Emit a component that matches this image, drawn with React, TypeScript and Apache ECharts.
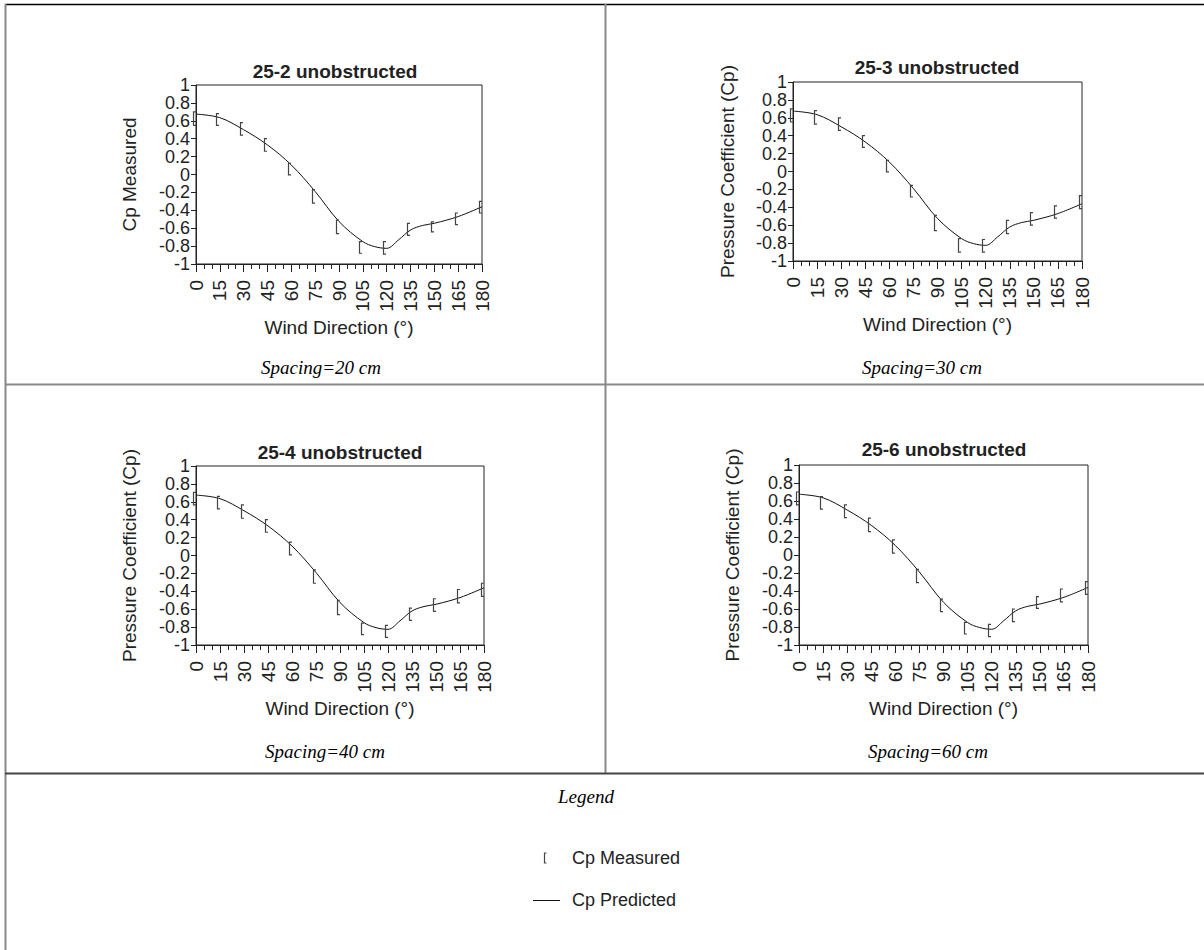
import React, { useEffect, useRef } from "react";
import * as echarts from "echarts";

// ---------- data ----------
const angles = [0, 15, 30, 45, 60, 75, 90, 105, 120, 135, 150, 165, 180];

const low1 = [0.55, 0.55, 0.44, 0.26, -0.005, -0.32, -0.66, -0.88, -0.89, -0.68, -0.64, -0.56, -0.43];
const high1 = [0.7, 0.68, 0.58, 0.4, 0.125, -0.17, -0.51, -0.75, -0.75, -0.545, -0.53, -0.43, -0.3];

const low2 = [0.553, 0.53, 0.46, 0.27, -0.005, -0.285, -0.66, -0.9, -0.9, -0.695, -0.6, -0.52, -0.415];
const high2 = [0.7, 0.68, 0.6, 0.4, 0.125, -0.155, -0.49, -0.75, -0.76, -0.545, -0.46, -0.385, -0.27];

const low3 = [0.565, 0.52, 0.416, 0.26, 0.007, -0.31, -0.66, -0.885, -0.915, -0.725, -0.625, -0.53, -0.457];
const high3 = [0.706, 0.66, 0.565, 0.4, 0.15, -0.16, -0.5, -0.755, -0.78, -0.587, -0.483, -0.38, -0.31];

const low4 = [0.556, 0.51, 0.415, 0.26, 0.02, -0.307, -0.63, -0.878, -0.907, -0.74, -0.593, -0.52, -0.437];
const high4 = [0.7, 0.65, 0.556, 0.41, 0.167, -0.16, -0.49, -0.748, -0.77, -0.6, -0.463, -0.378, -0.296];

const predAngles = [0, 15, 30, 45, 60, 75, 90, 105, 112.5, 120, 127.5, 135, 142.5, 150, 165, 180];
const predValues = [0.675, 0.635, 0.5, 0.33, 0.106, -0.19, -0.525, -0.75, -0.806, -0.825, -0.73, -0.62, -0.57, -0.545, -0.47, -0.36];

const titles = ["25-2 unobstructed", "25-3 unobstructed", "25-4 unobstructed", "25-6 unobstructed"];
const yNames = ["Cp Measured", "Pressure Coefficient (Cp)", "Pressure Coefficient (Cp)", "Pressure Coefficient (Cp)"];
const xName = "Wind Direction (°)";
const captions = ["Spacing=20 cm", "Spacing=30 cm", "Spacing=40 cm", "Spacing=60 cm"];
const legendTitle = "Legend";
const legendNames = ["Cp Measured", "Cp Predicted"];

const lows = [low1, low2, low3, low4];
const highs = [high1, high2, high3, high4];

// ---------- layout ----------
const grids = [
  { left: 196, top: 85, width: 286, height: 179, titleX: 335, titleY: 62, yGap: 57 },
  { left: 793, top: 82, width: 289, height: 179, titleX: 937, titleY: 58, yGap: 56 },
  { left: 196, top: 466, width: 288, height: 179, titleX: 340, titleY: 443, yGap: 57 },
  { left: 799, top: 465, width: 289, height: 180, titleX: 944, titleY: 440, yGap: 57 },
];
const captionPos = [
  [321, 367],
  [922, 367],
  [325, 751],
  [928, 751],
];

const SANS = "'Liberation Sans', Arial, sans-serif";
const SERIF = "'Liberation Serif', 'Times New Roman', serif";
const TXT = "#222";

export default function App() {
  const ref = useRef<HTMLDivElement>(null);

  useEffect(() => {
    if (!ref.current) return;
    const chart = echarts.init(ref.current, undefined, { renderer: "svg" });

    const grid: any[] = [];
    const xAxis: any[] = [];
    const yAxis: any[] = [];
    const series: any[] = [];
    const title: any[] = [];

    grids.forEach((g, i) => {
      grid.push({
        left: g.left,
        top: g.top,
        width: g.width,
        height: g.height,
        show: true,
        borderColor: "#222",
        borderWidth: 1,
        backgroundColor: "transparent",
      });
      title.push({
        text: titles[i],
        left: g.titleX,
        top: g.titleY,
        textAlign: "center",
        padding: 0,
        textStyle: { fontFamily: SANS, fontSize: 19, fontWeight: "bold", color: TXT },
      });
      xAxis.push({
        type: "value",
        gridIndex: i,
        min: 0,
        max: 180,
        interval: 15,
        name: xName,
        nameLocation: "middle",
        nameGap: 54,
        nameTextStyle: { fontFamily: SANS, fontSize: 19, color: TXT },
        axisLine: { show: true, onZero: false, lineStyle: { color: "#222", width: 1 } },
        axisTick: { show: true, inside: false, length: 8, lineStyle: { color: "#222" } },
        minorTick: { show: true, splitNumber: 3, length: 5, lineStyle: { color: "#222" } },
        splitLine: { show: false },
        axisLabel: {
          rotate: 90,
          margin: 16,
          fontFamily: SANS,
          fontSize: 19,
          color: TXT,
          showMinLabel: true,
          showMaxLabel: true,
          hideOverlap: false,
        },
      });
      yAxis.push({
        type: "value",
        gridIndex: i,
        min: -1,
        max: 1,
        interval: 0.2,
        name: yNames[i],
        nameLocation: "middle",
        nameGap: g.yGap,
        nameRotate: 90,
        nameTextStyle: { fontFamily: SANS, fontSize: 19, color: TXT },
        axisLine: { show: true, lineStyle: { color: "#222", width: 1 } },
        axisTick: { show: true, inside: false, length: 5, lineStyle: { color: "#222" } },
        splitLine: { show: false },
        axisLabel: {
          margin: 6,
          fontFamily: SANS,
          fontSize: 18,
          lineHeight: 12,
          color: TXT,
          showMinLabel: true,
          showMaxLabel: true,
          hideOverlap: false,
          formatter: (v: number) => String(Math.round(v * 10) / 10),
        },
      });
      series.push({
        type: "line",
        name: legendNames[1],
        xAxisIndex: i,
        yAxisIndex: i,
        data: predAngles.map((a, k) => [a, predValues[k]]),
        smooth: 0.35,
        showSymbol: false,
        symbol: "none",
        lineStyle: { color: "#111", width: 1 },
        z: 3,
      });
      series.push({
        type: "custom",
        name: legendNames[0],
        xAxisIndex: i,
        yAxisIndex: i,
        data: angles.map((a, k) => [a, lows[i][k], highs[i][k]]),
        renderItem: (params: any, api: any) => {
          const pLo = api.coord([api.value(0), api.value(1)]);
          const pHi = api.coord([api.value(0), api.value(2)]);
          const vx = Math.round(pLo[0] - 3.5) + 0.5;
          return {
            type: "polyline",
            shape: {
              points: [
                [vx + 2.5, pHi[1]],
                [vx, pHi[1]],
                [vx, pLo[1]],
                [vx + 2.5, pLo[1]],
              ],
            },
            style: { stroke: "#444", fill: "none", lineWidth: 1.2 },
          };
        },
        z: 4,
      });
    });

    const graphic: any[] = [
      // table borders
      { type: "line", shape: { x1: 5, y1: 4.5, x2: 1204, y2: 4.5 }, style: { stroke: "#000", lineWidth: 1.5 } },
      { type: "line", shape: { x1: 5.5, y1: 4, x2: 5.5, y2: 950 }, style: { stroke: "#888", lineWidth: 2 } },
      { type: "line", shape: { x1: 605.5, y1: 4, x2: 605.5, y2: 774 }, style: { stroke: "#888", lineWidth: 2 } },
      { type: "line", shape: { x1: 5, y1: 384.5, x2: 1204, y2: 384.5 }, style: { stroke: "#888", lineWidth: 2 } },
      { type: "line", shape: { x1: 5, y1: 773.5, x2: 1204, y2: 773.5 }, style: { stroke: "#444", lineWidth: 2 } },
    ];
    captions.forEach((c, i) => {
      graphic.push({
        type: "text",
        x: captionPos[i][0],
        y: captionPos[i][1],
        style: {
          text: c,
          fontFamily: SERIF,
          fontStyle: "italic",
          fontSize: 19,
          fill: "#000",
          align: "center",
          verticalAlign: "middle",
        },
      });
    });
    graphic.push({
      type: "text",
      x: 586,
      y: 796,
      style: { text: legendTitle, fontFamily: SERIF, fontStyle: "italic", fontSize: 19, fill: "#000", align: "center", verticalAlign: "middle" },
    });
    // legend marks
    graphic.push({
      type: "polyline",
      shape: { points: [[546.5, 853], [544.5, 853], [544.5, 863], [546.5, 863]] },
      style: { stroke: "#444", fill: "none", lineWidth: 1.2 },
    });
    graphic.push({
      type: "text",
      x: 572,
      y: 858,
      style: { text: legendNames[0], fontFamily: SANS, fontSize: 18, fill: TXT, align: "left", verticalAlign: "middle" },
    });
    graphic.push({
      type: "line",
      shape: { x1: 533, y1: 900.5, x2: 560, y2: 900.5 },
      style: { stroke: "#111", lineWidth: 1 },
    });
    graphic.push({
      type: "text",
      x: 572,
      y: 900,
      style: { text: legendNames[1], fontFamily: SANS, fontSize: 18, fill: TXT, align: "left", verticalAlign: "middle" },
    });

    chart.setOption({
      animation: false,
      backgroundColor: "#fff",
      title,
      grid,
      xAxis,
      yAxis,
      series,
      graphic,
    });

    return () => chart.dispose();
  }, []);

  return (
    <div
      ref={ref}
      style={{ position: "absolute", left: 0, top: 0, width: 1204, height: 950 }}
    />
  );
}
